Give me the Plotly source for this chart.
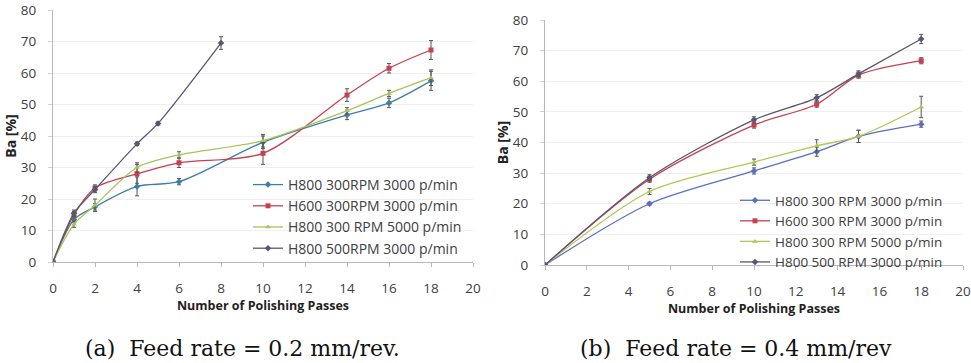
import plotly.graph_objects as go

W, H = 971, 363

# ---- data: (a) feed rate 0.2 mm/rev ----
a_x_main = [0, 1, 2, 4, 6, 10, 14, 16, 18]
a_blue = [0, 13.5, 17.5, 24, 25.5, 38, 46.7, 50.5, 57.5]
a_blue_err = [0, 1, 1, 3, 1, 2, 1.5, 1.5, 3]
a_red = [0, 15, 23.5, 28, 31.5, 34.5, 53, 61.5, 67.3]
a_red_err = [0, 1, 1, 3, 1.5, 3.5, 2, 1.5, 3]
a_green = [0, 12, 18, 30, 34, 38.5, 48, 53.5, 58.5]
a_green_err = [0, 1, 2, 1.5, 1, 2, 1, 1, 2.5]
a_x_dark = [0, 1, 2, 4, 5, 8]
a_dark = [0, 15.5, 23, 37.5, 44, 69.5]
a_dark_err = [0, 1, 1, 0.5, 0.5, 2]

# ---- data: (b) feed rate 0.4 mm/rev ----
b_x = [0, 5, 10, 13, 15, 18]
b_blue = [0, 20, 30.7, 37, 42, 46]
b_blue_err = [0, 0.5, 1, 1.5, 2, 1]
b_red = [0, 28, 45.7, 52.5, 62, 66.7]
b_red_err = [0, 1, 1, 1, 1, 1]
b_green = [0, 24, 33.6, 38.9, 42, 51.6]
b_green_err = [0, 1, 1, 2, 2, 3.5]
b_dark = [0, 28.5, 47.4, 54.6, 62.4, 73.8]
b_dark_err = [0, 1, 1, 1, 1, 1.5]

x_ticks = list(range(0, 21, 2))
y_ticks = list(range(0, 81, 10))

a_names = ["H800 300RPM 3000 p/min", "H600 300RPM 3000 p/min",
           "H800 300 RPM 5000 p/min", "H800 500RPM 3000 p/min"]
b_names = ["H800 300 RPM 3000 p/min", "H600 300 RPM 3000 p/min",
           "H800 300 RPM 5000 p/min", "H800 500 RPM 3000 p/min"]

col_a = ["#3f7fa3", "#c8404e", "#a6c45a", "#5a5670"]
col_b = ["#5a6fc4", "#c8404e", "#b0c850", "#5a5670"]
symbols = ["diamond", "square", "triangle-up", "diamond"]

fig = go.Figure()

def add(x, y, err, name, color, sym, xa, ya, legend):
    fig.add_trace(go.Scatter(
        x=x, y=y, name=name, mode="lines+markers",
        line=dict(color=color, width=1.3, shape="spline", smoothing=0.8),
        marker=dict(color=color, size=5, symbol=sym),
        error_y=dict(type="data", array=err, visible=True, color="#555555",
                     thickness=1, width=2),
        xaxis=xa, yaxis=ya, legend=legend))

a_sets = [(a_x_main, a_blue, a_blue_err), (a_x_main, a_red, a_red_err),
          (a_x_main, a_green, a_green_err), (a_x_dark, a_dark, a_dark_err)]
for i, (x, y, e) in enumerate(a_sets):
    add(x, y, e, a_names[i], col_a[i], symbols[i], "x", "y", "legend")

b_sets = [(b_x, b_blue, b_blue_err), (b_x, b_red, b_red_err),
          (b_x, b_green, b_green_err), (b_x, b_dark, b_dark_err)]
for i, (x, y, e) in enumerate(b_sets):
    add(x, y, e, b_names[i], col_b[i], symbols[i], "x2", "y2", "legend2")

tickfont = dict(family="Open Sans", size=13.5, color="#404040")
titlefont = dict(family="Open Sans", size=12.5, color="#222222", weight="bold")
ytitlefont = dict(family="Open Sans", size=14, color="#222222", weight="bold")

def xaxis(domain, anchor):
    return dict(domain=domain, anchor=anchor, range=[0, 20], tickvals=x_ticks,
                showline=True, linecolor="#b8b8b8", linewidth=1,
                ticks="outside", ticklen=4, tickcolor="#b8b8b8",
                showgrid=False, zeroline=False, tickfont=tickfont,
                ticklabelstandoff=10, automargin=False,
                title=dict(text="Number of Polishing Passes", font=titlefont,
                           standoff=5))

def yaxis(domain, anchor):
    return dict(domain=domain, anchor=anchor, range=[0, 80], tickvals=y_ticks,
                showline=True, linecolor="#b8b8b8", linewidth=1,
                ticks="outside", ticklen=4, tickcolor="#d0d0d0",
                showgrid=True, gridcolor="#efefef", zeroline=False,
                tickfont=tickfont, ticklabelstandoff=9, automargin=False,
                title=dict(text="Ba [%]", font=ytitlefont, standoff=0))

fig.update_layout(
    width=W, height=H, margin=dict(l=0, r=0, t=0, b=0, autoexpand=False),
    paper_bgcolor="white", plot_bgcolor="white",
    xaxis=xaxis([53 / W, 473 / W], "y"),
    yaxis=yaxis([1 - 262 / H, 1 - 10 / H], "x"),
    xaxis2=xaxis([545 / W, 963 / W], "y2"),
    yaxis2=yaxis([1 - 265 / H, 1 - 20 / H], "x2"),
    legend=dict(x=248 / W, y=1 - 169 / H, xanchor="left", yanchor="top",
                bgcolor="rgba(0,0,0,0)", font=dict(family="Open Sans", size=14, color="#404040"),
                itemwidth=30, tracegroupgap=0),
    legend2=dict(x=735 / W, y=1 - 185 / H, xanchor="left", yanchor="top",
                 bgcolor="rgba(0,0,0,0)", font=dict(family="Open Sans", size=13.5, color="#404040"),
                 itemwidth=30, tracegroupgap=0),
    showlegend=True,
)

cap_font = dict(family="DejaVu Serif", size=22, color="#111111")
fig.add_annotation(text="(a)  Feed rate = 0.2 mm/rev.", xref="paper", yref="paper",
                   x=243 / W, y=1 - 348 / H, showarrow=False, font=cap_font,
                   xanchor="center", yanchor="middle")
fig.add_annotation(text="(b)  Feed rate = 0.4 mm/rev", xref="paper", yref="paper",
                   x=736 / W, y=1 - 348 / H, showarrow=False, font=cap_font,
                   xanchor="center", yanchor="middle")

fig.write_html("out.html")
